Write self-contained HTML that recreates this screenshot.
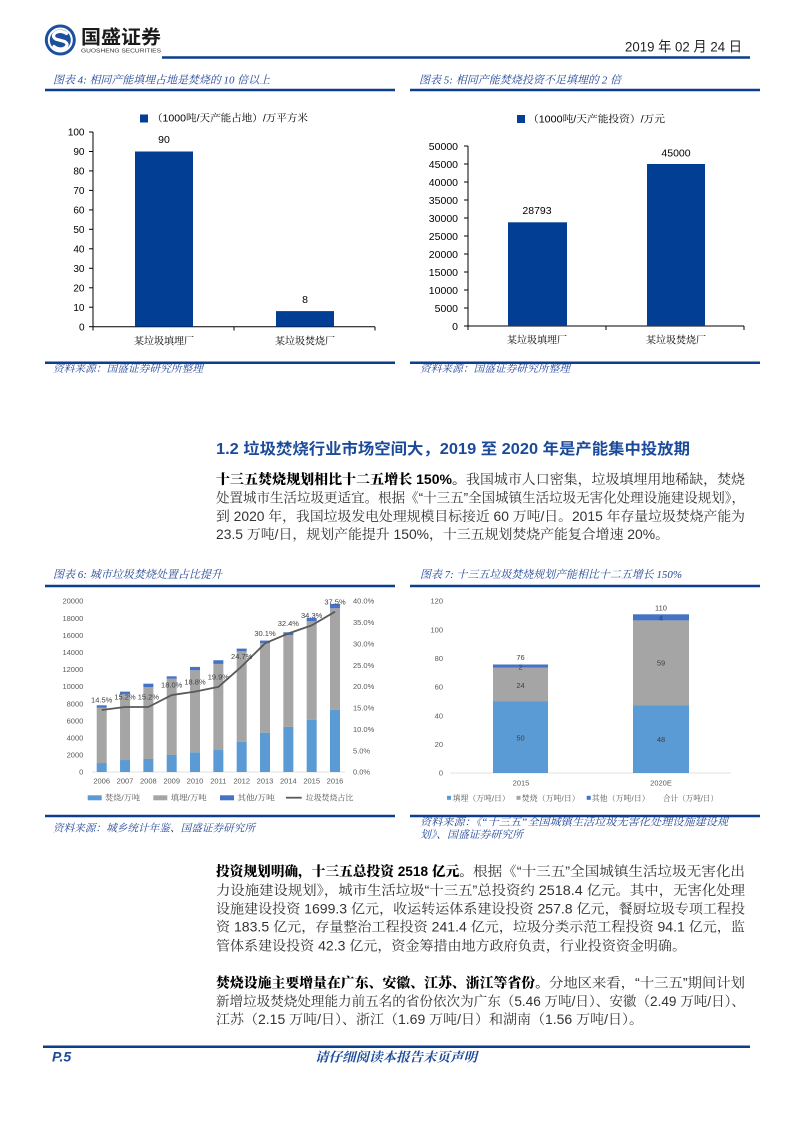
<!DOCTYPE html>
<html><head><meta charset="utf-8">
<style>
html,body{margin:0;padding:0;background:#fff;}
svg{display:block;}
.t{font-family:"Liberation Serif","Noto Serif CJK SC",serif;font-style:italic;fill:#24489a;}
.r{font-family:"Liberation Sans","Noto Serif CJK SC",serif;font-size:13.5px;fill:#333;}
.b{font-family:"Liberation Sans","Noto Serif CJK SC",serif;font-weight:900;font-size:13.5px;fill:#000;}
.ax{font-family:"Liberation Sans","Noto Sans CJK SC",sans-serif;fill:#000;}
.cj{font-family:"Liberation Sans","Noto Serif CJK SC",serif;fill:#000;}
.g{font-family:"Liberation Sans","Noto Sans CJK SC",sans-serif;fill:#595959;font-size:7.5px;}
.gl{font-family:"Liberation Sans","Noto Serif CJK SC",serif;fill:#595959;font-size:7.7px;}
.dl{font-family:"Liberation Sans","Noto Sans CJK SC",sans-serif;fill:#404040;font-size:7.5px;}
</style></head>
<body>
<svg width="793" height="1122" viewBox="0 0 793 1122" xmlns="http://www.w3.org/2000/svg">
<rect width="793" height="1122" fill="#fff"/>

<!-- Header -->
<circle cx="60.3" cy="40" r="15.5" fill="#1d4f9f"/>
<circle cx="60.3" cy="40" r="11.5" fill="none" stroke="#fff" stroke-width="2"/>
<path d="M66.5 33.5 Q60 29.5 55 33 Q51.5 36.5 56 39.2 L64.5 41.5 Q69 44 65.5 47.5 Q60 51 54 46.5" stroke="#fff" stroke-width="3.2" fill="none" stroke-linecap="round"/>
<text x="81" y="43.5" textLength="80" lengthAdjust="spacingAndGlyphs" style="font-family:'Liberation Sans','Noto Sans CJK SC',sans-serif;font-weight:bold;font-size:19px;fill:#1a1a1a;">国盛证券</text>
<text x="81" y="52.3" textLength="80" lengthAdjust="spacingAndGlyphs" style="font-family:'Liberation Sans',sans-serif;font-size:5px;fill:#333;">GUOSHENG SECURITIES</text>
<text x="625" y="51.5" textLength="117" lengthAdjust="spacingAndGlyphs" style="font-family:'Liberation Sans','Noto Sans CJK SC',sans-serif;font-size:14px;fill:#222;">2019 年 02 月 24 日</text>
<line x1="162" y1="57.5" x2="750" y2="57.5" stroke="#0c3d8f" stroke-width="2.5"/>

<!-- Chart 4 / 5 titles -->
<text class="t" x="53" y="83.3" font-size="11" textLength="217" lengthAdjust="spacingAndGlyphs">图表 4: 相同产能填埋占地是焚烧的 10 倍以上</text>
<line x1="45" y1="90" x2="395" y2="90" stroke="#0c3d8f" stroke-width="2.5"/>
<text class="t" x="419" y="83.3" font-size="11" textLength="202" lengthAdjust="spacingAndGlyphs">图表 5: 相同产能焚烧投资不足填埋的 2 倍</text>
<line x1="410" y1="90" x2="760" y2="90" stroke="#0c3d8f" stroke-width="2.5"/>

<!-- Chart 4 -->
<rect x="140" y="114.5" width="8" height="8" fill="#023f94"/>
<text class="cj" x="152" y="121.6" font-size="10" textLength="156" lengthAdjust="spacingAndGlyphs">（1000吨/天产能占地）/万平方米</text>
<g class="ax" font-size="10" text-anchor="end">
<text x="84.5" y="330.3">0</text>
<text x="84.5" y="310.8">10</text>
<text x="84.5" y="291.4">20</text>
<text x="84.5" y="271.9">30</text>
<text x="84.5" y="252.4">40</text>
<text x="84.5" y="232.9">50</text>
<text x="84.5" y="213.5">60</text>
<text x="84.5" y="194.0">70</text>
<text x="84.5" y="174.5">80</text>
<text x="84.5" y="155.1">90</text>
<text x="84.5" y="135.6">100</text>
</g>
<g stroke="#000" stroke-width="1">
<line x1="93" y1="132" x2="93" y2="326.7"/>
<line x1="89" y1="326.7" x2="93" y2="326.7"/>
<line x1="89" y1="307.2" x2="93" y2="307.2"/>
<line x1="89" y1="287.8" x2="93" y2="287.8"/>
<line x1="89" y1="268.3" x2="93" y2="268.3"/>
<line x1="89" y1="248.8" x2="93" y2="248.8"/>
<line x1="89" y1="229.3" x2="93" y2="229.3"/>
<line x1="89" y1="209.9" x2="93" y2="209.9"/>
<line x1="89" y1="190.4" x2="93" y2="190.4"/>
<line x1="89" y1="170.9" x2="93" y2="170.9"/>
<line x1="89" y1="151.5" x2="93" y2="151.5"/>
<line x1="89" y1="132" x2="93" y2="132"/>
<line x1="93" y1="326.7" x2="375" y2="326.7"/>
<line x1="93" y1="326.7" x2="93" y2="330.5"/>
<line x1="234" y1="326.7" x2="234" y2="330.5"/>
<line x1="375" y1="326.7" x2="375" y2="330.5"/>
</g>
<rect x="135" y="151.5" width="58" height="175.2" fill="#023f94"/>
<rect x="276" y="311.1" width="58" height="15.6" fill="#023f94"/>
<g class="ax" font-size="10.5" text-anchor="middle">
<text x="164" y="142.8">90</text>
<text x="305" y="303">8</text>
</g>
<g class="cj" font-size="10" text-anchor="middle">
<text x="164" y="344.3">某垃圾填埋厂</text>
<text x="305" y="344.3">某垃圾焚烧厂</text>
</g>
<line x1="45" y1="362.7" x2="395" y2="362.7" stroke="#0c3d8f" stroke-width="2.5"/>
<text class="t" x="53" y="372" font-size="10.5" textLength="150" lengthAdjust="spacingAndGlyphs">资料来源：国盛证券研究所整理</text>

<!-- Chart 5 -->
<rect x="517" y="115" width="8" height="8" fill="#023f94"/>
<text class="cj" x="528" y="122.6" font-size="10" textLength="137" lengthAdjust="spacingAndGlyphs">（1000吨/天产能投资）/万元</text>
<g class="ax" font-size="10.5" text-anchor="end">
<text x="458" y="329.8">0</text>
<text x="458" y="311.8">5000</text>
<text x="458" y="293.8">10000</text>
<text x="458" y="275.8">15000</text>
<text x="458" y="257.8">20000</text>
<text x="458" y="239.8">25000</text>
<text x="458" y="221.8">30000</text>
<text x="458" y="203.8">35000</text>
<text x="458" y="185.8">40000</text>
<text x="458" y="167.8">45000</text>
<text x="458" y="149.8">50000</text>
</g>
<g stroke="#000" stroke-width="1">
<line x1="468" y1="146" x2="468" y2="326"/>
<line x1="464" y1="326" x2="468" y2="326"/>
<line x1="464" y1="308" x2="468" y2="308"/>
<line x1="464" y1="290" x2="468" y2="290"/>
<line x1="464" y1="272" x2="468" y2="272"/>
<line x1="464" y1="254" x2="468" y2="254"/>
<line x1="464" y1="236" x2="468" y2="236"/>
<line x1="464" y1="218" x2="468" y2="218"/>
<line x1="464" y1="200" x2="468" y2="200"/>
<line x1="464" y1="182" x2="468" y2="182"/>
<line x1="464" y1="164" x2="468" y2="164"/>
<line x1="464" y1="146" x2="468" y2="146"/>
<line x1="468" y1="326" x2="744" y2="326"/>
<line x1="468" y1="326" x2="468" y2="330"/>
<line x1="606" y1="326" x2="606" y2="330"/>
<line x1="744" y1="326" x2="744" y2="330"/>
</g>
<rect x="508" y="222.3" width="59" height="103.7" fill="#023f94"/>
<rect x="647" y="164" width="58" height="162" fill="#023f94"/>
<g class="ax" font-size="10.5" text-anchor="middle">
<text x="537" y="213.8">28793</text>
<text x="676" y="156.5">45000</text>
</g>
<g class="cj" font-size="10" text-anchor="middle">
<text x="537" y="343.6">某垃圾填埋厂</text>
<text x="676" y="343.6">某垃圾焚烧厂</text>
</g>
<line x1="410" y1="362.7" x2="760" y2="362.7" stroke="#0c3d8f" stroke-width="2.5"/>
<text class="t" x="420" y="372" font-size="10.5" textLength="150" lengthAdjust="spacingAndGlyphs">资料来源：国盛证券研究所整理</text>

<!-- Section header -->
<text x="216" y="454" textLength="474" lengthAdjust="spacingAndGlyphs" style="font-family:'Liberation Sans','Noto Sans CJK SC',sans-serif;font-weight:bold;font-size:15.5px;fill:#1b4a9a;">1.2 垃圾焚烧行业市场空间大，2019 至 2020 年是产能集中投放期</text>

<!-- Paragraph 1 -->
<text class="b" x="216" y="484" textLength="250" lengthAdjust="spacingAndGlyphs">十三五焚烧规划相比十二五增长 150%。</text>
<text class="r" x="466" y="484" textLength="279" lengthAdjust="spacingAndGlyphs">我国城市人口密集，垃圾填埋用地稀缺，焚烧</text>
<text class="r" x="216" y="502.7" textLength="529" lengthAdjust="spacingAndGlyphs">处置城市生活垃圾更适宜。根据《“十三五”全国城镇生活垃圾无害化处理设施建设规划》，</text>
<text class="r" x="216" y="521" textLength="529" lengthAdjust="spacingAndGlyphs">到 2020 年，我国垃圾发电处理规模目标接近 60 万吨/日。2015 年存量垃圾焚烧产能为</text>
<text class="r" x="216" y="539.2" textLength="453" lengthAdjust="spacingAndGlyphs">23.5 万吨/日，规划产能提升 150%，十三五规划焚烧产能复合增速 20%。</text>

<!-- Chart 6 / 7 titles -->
<text class="t" x="53" y="578" font-size="11" textLength="169" lengthAdjust="spacingAndGlyphs">图表 6: 城市垃圾焚烧处置占比提升</text>
<line x1="45" y1="586" x2="395" y2="586" stroke="#0c3d8f" stroke-width="2.5"/>
<text class="t" x="420" y="578" font-size="11" textLength="262" lengthAdjust="spacingAndGlyphs">图表 7: 十三五垃圾焚烧规划产能相比十二五增长 150%</text>
<line x1="410" y1="586" x2="760" y2="586" stroke="#0c3d8f" stroke-width="2.5"/>

<!-- Chart 6 -->
<g class="g" text-anchor="end">
<text x="83.3" y="774.7">0</text>
<text x="83.3" y="757.6">2000</text>
<text x="83.3" y="740.5">4000</text>
<text x="83.3" y="723.4">6000</text>
<text x="83.3" y="706.3">8000</text>
<text x="83.3" y="689.2">10000</text>
<text x="83.3" y="672.1">12000</text>
<text x="83.3" y="655.0">14000</text>
<text x="83.3" y="637.9">16000</text>
<text x="83.3" y="620.8">18000</text>
<text x="83.3" y="603.7">20000</text>
</g>
<g class="g" text-anchor="start">
<text x="353" y="774.7">0.0%</text>
<text x="353" y="753.3">5.0%</text>
<text x="353" y="731.9">10.0%</text>
<text x="353" y="710.6">15.0%</text>
<text x="353" y="689.2">20.0%</text>
<text x="353" y="667.8">25.0%</text>
<text x="353" y="646.4">30.0%</text>
<text x="353" y="625.1">35.0%</text>
<text x="353" y="603.7">40.0%</text>
</g>
<line x1="92" y1="772" x2="345" y2="772" stroke="#d9d9d9" stroke-width="0.8"/>
<g>
<rect x="96.7" y="763.02" width="10" height="8.98" fill="#5b9bd5"/>
<rect x="96.7" y="707.62" width="10" height="55.4" fill="#a5a5a5"/>
<rect x="96.7" y="705.31" width="10" height="2.31" fill="#4472c4"/>

<rect x="120.03" y="760.03" width="10" height="11.97" fill="#5b9bd5"/>
<rect x="120.03" y="694.28" width="10" height="65.75" fill="#a5a5a5"/>
<rect x="120.03" y="691.63" width="10" height="2.65" fill="#4472c4"/>

<rect x="143.36" y="759.0" width="10" height="13.0" fill="#5b9bd5"/>
<rect x="143.36" y="687.01" width="10" height="71.99" fill="#a5a5a5"/>
<rect x="143.36" y="683.68" width="10" height="3.33" fill="#4472c4"/>

<rect x="166.69" y="754.99" width="10" height="17.01" fill="#5b9bd5"/>
<rect x="166.69" y="678.63" width="10" height="76.36" fill="#a5a5a5"/>
<rect x="166.69" y="676.33" width="10" height="2.3" fill="#4472c4"/>

<rect x="190.02" y="752.34" width="10" height="19.66" fill="#5b9bd5"/>
<rect x="190.02" y="670.26" width="10" height="82.08" fill="#a5a5a5"/>
<rect x="190.02" y="666.92" width="10" height="3.34" fill="#4472c4"/>

<rect x="213.35" y="750.03" width="10" height="21.97" fill="#5b9bd5"/>
<rect x="213.35" y="663.93" width="10" height="86.1" fill="#a5a5a5"/>
<rect x="213.35" y="660.25" width="10" height="3.68" fill="#4472c4"/>

<rect x="236.68" y="741.65" width="10" height="30.35" fill="#5b9bd5"/>
<rect x="236.68" y="651.27" width="10" height="90.38" fill="#a5a5a5"/>
<rect x="236.68" y="648.62" width="10" height="2.65" fill="#4472c4"/>

<rect x="260.01" y="732.67" width="10" height="39.33" fill="#5b9bd5"/>
<rect x="260.01" y="642.98" width="10" height="89.69" fill="#a5a5a5"/>
<rect x="260.01" y="640.59" width="10" height="2.39" fill="#4472c4"/>

<rect x="283.34" y="726.94" width="10" height="45.06" fill="#5b9bd5"/>
<rect x="283.34" y="635.29" width="10" height="91.65" fill="#a5a5a5"/>
<rect x="283.34" y="632.29" width="10" height="3.0" fill="#4472c4"/>

<rect x="306.67" y="719.67" width="10" height="52.33" fill="#5b9bd5"/>
<rect x="306.67" y="621.26" width="10" height="98.41" fill="#a5a5a5"/>
<rect x="306.67" y="617.93" width="10" height="3.33" fill="#4472c4"/>

<rect x="330.0" y="709.67" width="10" height="62.33" fill="#5b9bd5"/>
<rect x="330.0" y="608.27" width="10" height="101.4" fill="#a5a5a5"/>
<rect x="330.0" y="603.91" width="10" height="4.36" fill="#4472c4"/>
</g>
<polyline fill="none" stroke="#595959" stroke-width="1.8" stroke-linejoin="round" points="101.7,710.0 125.03,707.0 148.36,707.0 171.69,695.05 195.02,691.63 218.35,686.93 241.68,666.41 265.01,643.32 288.34,633.49 311.67,625.37 335.0,611.69"/>
<g class="dl" text-anchor="middle">
<text x="101.7" y="702.7">14.5%</text>
<text x="125.03" y="699.7">15.2%</text>
<text x="148.36" y="699.7">15.2%</text>
<text x="171.69" y="687.7">18.0%</text>
<text x="195.02" y="684.3">18.8%</text>
<text x="218.35" y="679.6">19.9%</text>
<text x="241.68" y="659.1">24.7%</text>
<text x="265.01" y="636.0">30.1%</text>
<text x="288.34" y="626.2">32.4%</text>
<text x="311.67" y="618.1">34.3%</text>
<text x="335.0" y="604.4">37.5%</text>
</g>
<g class="g" text-anchor="middle">
<text x="101.7" y="783.4">2006</text>
<text x="125.03" y="783.4">2007</text>
<text x="148.36" y="783.4">2008</text>
<text x="171.69" y="783.4">2009</text>
<text x="195.02" y="783.4">2010</text>
<text x="218.35" y="783.4">2011</text>
<text x="241.68" y="783.4">2012</text>
<text x="265.01" y="783.4">2013</text>
<text x="288.34" y="783.4">2014</text>
<text x="311.67" y="783.4">2015</text>
<text x="335.0" y="783.4">2016</text>
</g>
<rect x="87.7" y="795.3" width="14" height="5" fill="#5b9bd5"/>
<text class="gl" x="105" y="800.5" textLength="35" lengthAdjust="spacingAndGlyphs">焚烧/万吨</text>
<rect x="153.3" y="795.3" width="14" height="5" fill="#a5a5a5"/>
<text class="gl" x="170.7" y="800.5" textLength="36" lengthAdjust="spacingAndGlyphs">填埋/万吨</text>
<rect x="220" y="795.3" width="14" height="5" fill="#4472c4"/>
<text class="gl" x="237.3" y="800.5" textLength="37.5" lengthAdjust="spacingAndGlyphs">其他/万吨</text>
<line x1="286" y1="797.7" x2="301.7" y2="797.7" stroke="#595959" stroke-width="1.8"/>
<text class="gl" x="305.7" y="800.5" textLength="47.6" lengthAdjust="spacingAndGlyphs">垃圾焚烧占比</text>
<line x1="45" y1="816" x2="395" y2="816" stroke="#0c3d8f" stroke-width="2.5"/>
<text class="t" x="53" y="831.7" font-size="10.5" textLength="202" lengthAdjust="spacingAndGlyphs">资料来源：城乡统计年鉴、国盛证券研究所</text>

<!-- Chart 7 -->
<g class="g" text-anchor="end">
<text x="443" y="775.7">0</text>
<text x="443" y="747.0">20</text>
<text x="443" y="718.4">40</text>
<text x="443" y="689.7">60</text>
<text x="443" y="661.0">80</text>
<text x="443" y="632.4">100</text>
<text x="443" y="603.7">120</text>
</g>
<line x1="450" y1="773" x2="731" y2="773" stroke="#d9d9d9" stroke-width="0.8"/>
<rect x="493" y="701.5" width="55" height="71.5" fill="#5b9bd5"/>
<rect x="493" y="667.5" width="55" height="34" fill="#a5a5a5"/>
<rect x="493" y="664.5" width="55" height="3" fill="#4472c4"/>
<rect x="633" y="705.1" width="56" height="67.9" fill="#5b9bd5"/>
<rect x="633" y="620.4" width="56" height="84.7" fill="#a5a5a5"/>
<rect x="633" y="614.3" width="56" height="6.1" fill="#4472c4"/>
<g class="dl" font-size="8" text-anchor="middle">
<text x="520.5" y="740.6">50</text>
<text x="520.5" y="687.9">24</text>
<text x="520.5" y="669.6">2</text>
<text x="520.5" y="660.2">76</text>
<text x="661" y="742.2">48</text>
<text x="661" y="665.6">59</text>
<text x="661" y="620.6">4</text>
<text x="661" y="610.6">110</text>
</g>
<g class="g" text-anchor="middle">
<text x="521" y="785.4">2015</text>
<text x="661" y="785.4">2020E</text>
</g>
<rect x="447" y="795.8" width="4" height="4" fill="#5b9bd5"/>
<text class="gl" x="452.7" y="800.8" textLength="57" lengthAdjust="spacingAndGlyphs">填埋（万吨/日）</text>
<rect x="516.5" y="795.8" width="4" height="4" fill="#a5a5a5"/>
<text class="gl" x="521.7" y="800.8" textLength="58" lengthAdjust="spacingAndGlyphs">焚烧（万吨/日）</text>
<rect x="586.7" y="795.8" width="4" height="4" fill="#4472c4"/>
<text class="gl" x="591.7" y="800.8" textLength="58" lengthAdjust="spacingAndGlyphs">其他（万吨/日）</text>
<text class="gl" x="663" y="800.8" textLength="55" lengthAdjust="spacingAndGlyphs">合计（万吨/日）</text>
<line x1="410" y1="816" x2="760" y2="816" stroke="#0c3d8f" stroke-width="2.5"/>
<text class="t" x="420" y="825.5" font-size="10.5" textLength="308" lengthAdjust="spacingAndGlyphs">资料来源：《“十三五”全国城镇生活垃圾无害化处理设施建设规</text>
<text class="t" x="420" y="837.8" font-size="10.5" textLength="103" lengthAdjust="spacingAndGlyphs">划》、国盛证券研究所</text>

<!-- Paragraph 2 -->
<text class="b" x="216" y="876" textLength="257" lengthAdjust="spacingAndGlyphs">投资规划明确，十三五总投资 2518 亿元。</text>
<text class="r" x="473" y="876" textLength="272" lengthAdjust="spacingAndGlyphs">根据《“十三五”全国城镇生活垃圾无害化出</text>
<text class="r" x="216" y="895" textLength="529" lengthAdjust="spacingAndGlyphs">力设施建设规划》，城市生活垃圾“十三五”总投资约 2518.4 亿元。其中，无害化处理</text>
<text class="r" x="216" y="913.3" textLength="529" lengthAdjust="spacingAndGlyphs">设施建设投资 1699.3 亿元，收运转运体系建设投资 257.8 亿元，餐厨垃圾专项工程投</text>
<text class="r" x="216" y="931.7" textLength="529" lengthAdjust="spacingAndGlyphs">资 183.5 亿元，存量整治工程投资 241.4 亿元，垃圾分类示范工程投资 94.1 亿元，监</text>
<text class="r" x="216" y="950.7" textLength="470" lengthAdjust="spacingAndGlyphs">管体系建设投资 42.3 亿元，资金筹措由地方政府负责，行业投资资金明确。</text>

<!-- Paragraph 3 -->
<text class="b" x="216" y="987.7" textLength="333" lengthAdjust="spacingAndGlyphs">焚烧设施主要增量在广东、安徽、江苏、浙江等省份。</text>
<text class="r" x="549" y="987.7" textLength="196" lengthAdjust="spacingAndGlyphs">分地区来看，“十三五”期间计划</text>
<text class="r" x="216" y="1006" textLength="529" lengthAdjust="spacingAndGlyphs">新增垃圾焚烧处理能力前五名的省份依次为广东（5.46 万吨/日）、安徽（2.49 万吨/日）、</text>
<text class="r" x="216" y="1024" textLength="427" lengthAdjust="spacingAndGlyphs">江苏（2.15 万吨/日）、浙江（1.69 万吨/日）和湖南（1.56 万吨/日）。</text>

<!-- Footer -->
<line x1="43" y1="1046.7" x2="750" y2="1046.7" stroke="#0c3d8f" stroke-width="2.5"/>
<text x="52" y="1061.5" style="font-family:'Liberation Sans',sans-serif;font-weight:bold;font-style:italic;font-size:14px;fill:#1b4a9a;">P.5</text>
<text x="315" y="1061.5" textLength="162" lengthAdjust="spacingAndGlyphs" style="font-family:'Liberation Sans','Noto Serif CJK SC',serif;font-weight:bold;font-style:italic;font-size:13px;fill:#1b4a9a;">请仔细阅读本报告末页声明</text>
</svg>
</body></html>
